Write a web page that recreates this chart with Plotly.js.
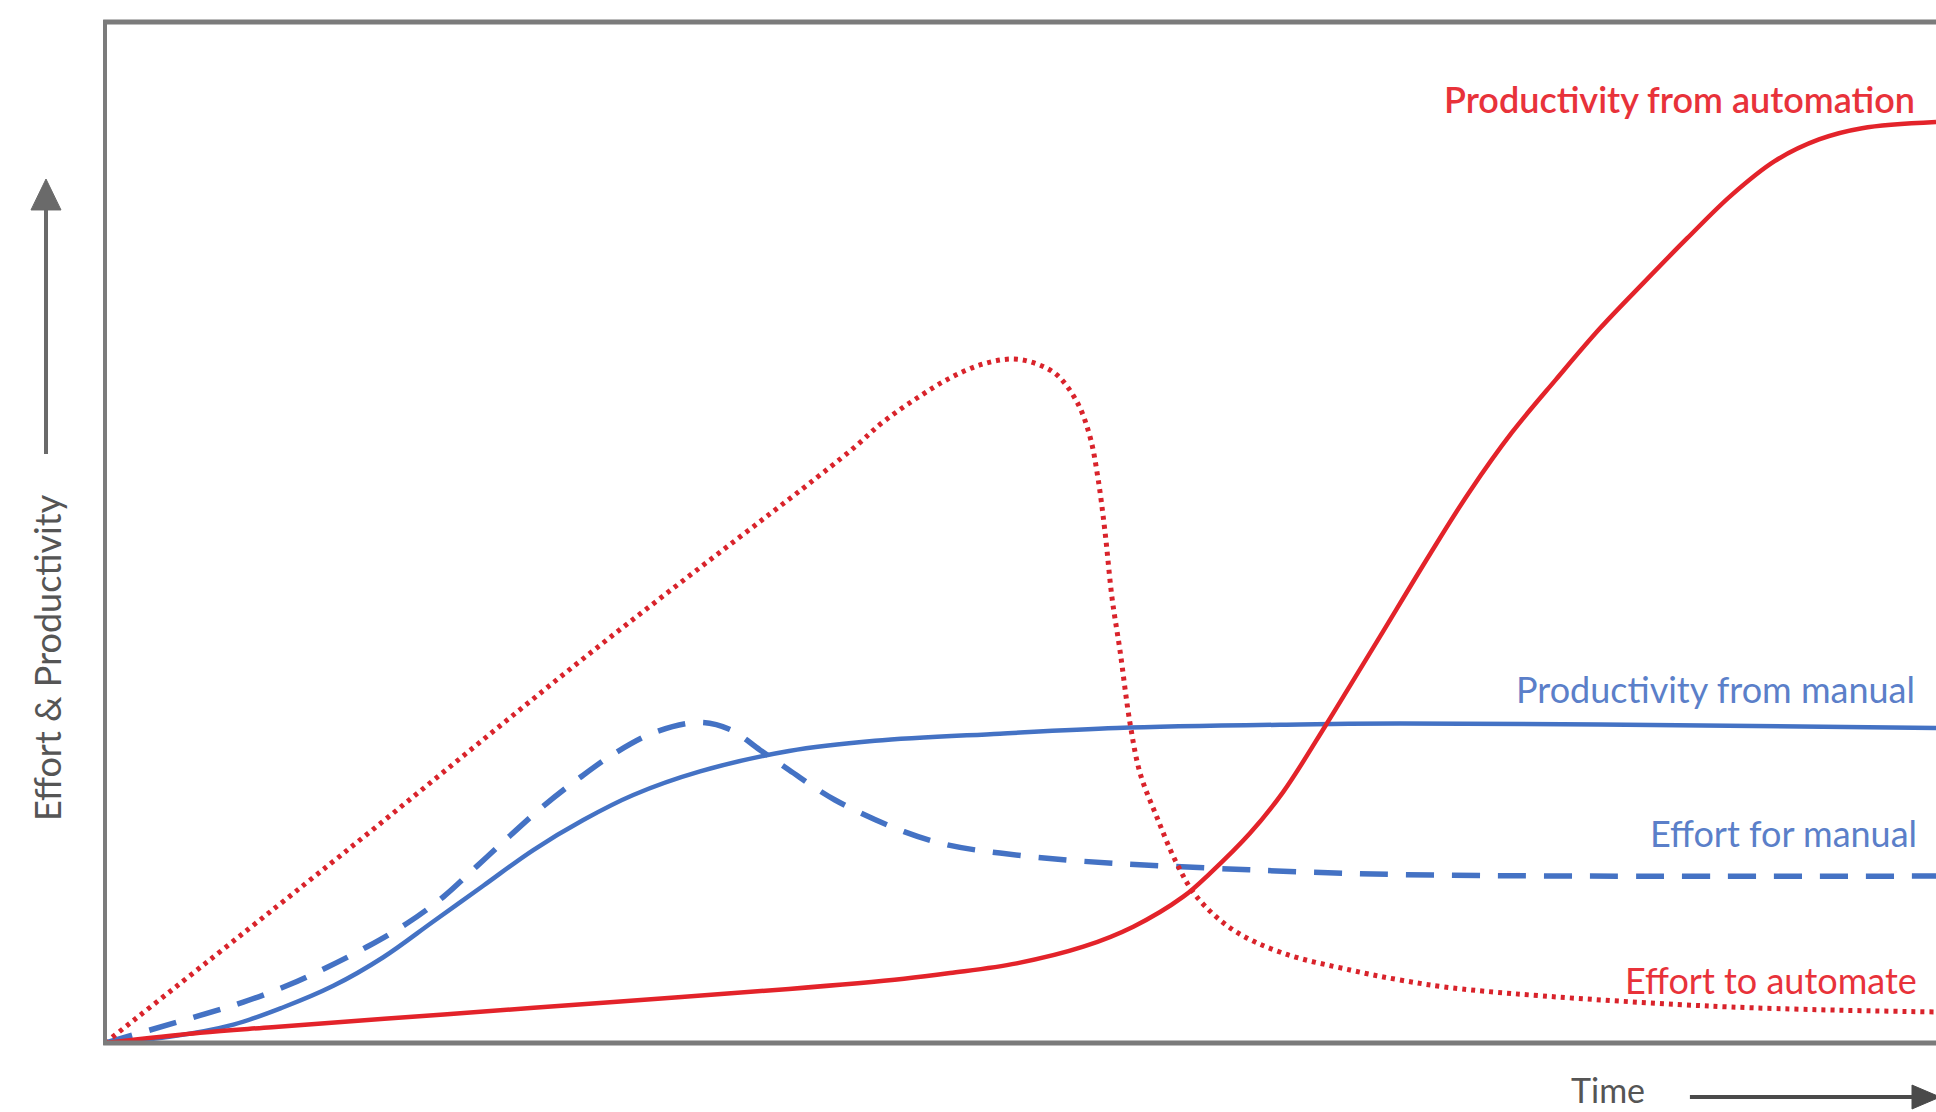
<!DOCTYPE html>
<html>
<head>
<meta charset="utf-8">
<script src="https://cdn.plot.ly/plotly-3.0.1.min.js"></script>
<style>html,body{margin:0;padding:0;background:#fff;}#chart{width:1936px;height:1112px;}</style>
</head>
<body>
<div id="chart"></div>
<script>
// Effort to automate (red dotted)
const effortAutoX = [0, 13.38, 26.71, 40.69, 42.49, 44.35, 46.15, 47.95, 49.59, 50.90, 51.99, 53.09, 53.80, 54.23, 54.61, 55.00, 55.43, 55.98, 56.53, 57.44, 58.53, 59.62, 61.62, 64.35, 68.00, 70.73, 74.11, 87.60, 100];
const effortAutoY = [0, 19.10, 38.49, 57.98, 60.82, 63.17, 65.13, 66.50, 66.99, 66.50, 65.43, 62.78, 59.35, 55.34, 50.15, 43.58, 38.49, 31.34, 26.44, 22.16, 17.60, 14.33, 11.07, 8.79, 7.15, 6.17, 5.29, 3.62, 3.04];

// Productivity from automation (red solid)
const prodAutoX = [0, 5.19, 9.12, 18.51, 27.96, 37.36, 43.64, 46.15, 49.79, 53.43, 56.16, 58.89, 60.35, 62.53, 64.35, 66.63, 68.00, 69.63, 72.37, 74.49, 76.84, 79.25, 81.65, 84.05, 86.40, 88.80, 91.21, 93.61, 95.96, 100];
const prodAutoY = [0, 1.00, 1.55, 2.80, 4.05, 5.30, 6.30, 6.85, 7.80, 9.43, 11.39, 14.33, 16.62, 20.54, 24.60, 31.00, 35.00, 39.80, 47.90, 53.90, 59.80, 65.00, 70.00, 74.50, 78.80, 83.00, 86.40, 88.50, 89.60, 90.20];

// Productivity from manual (blue solid)
const prodManX = [0, 3.50, 7.01, 9.74, 12.47, 15.20, 17.93, 20.66, 23.39, 26.12, 28.85, 32.50, 37.36, 42.05, 48.88, 55.27, 65.26, 70.72, 81.65, 100];
const prodManY = [0, 0.60, 1.80, 3.50, 5.60, 8.40, 11.90, 15.40, 18.90, 21.84, 24.29, 26.60, 28.60, 29.60, 30.30, 30.85, 31.20, 31.30, 31.20, 30.85];

// Effort for manual (blue dashed)
const effortManX = [0, 5.19, 7.55, 9.92, 12.11, 14.29, 16.48, 18.47, 20.30, 22.12, 23.94, 25.94, 27.95, 30.13, 32.50, 34.19, 35.77, 37.36, 39.87, 43.64, 46.15, 48.88, 53.41, 60.73, 70.73, 100];
const effortManY = [0, 2.70, 4.00, 5.60, 7.40, 9.40, 11.70, 14.30, 17.30, 20.30, 23.20, 26.00, 28.50, 30.50, 31.40, 30.66, 28.70, 26.74, 23.80, 20.70, 19.35, 18.60, 17.80, 17.10, 16.50, 16.35];

const seriesLabels = ["Productivity from automation", "Productivity from manual", "Effort for manual", "Effort to automate"];
const axisLabels = {x: "Time", y: "Effort & Productivity"};

const RED = '#e3232a';
const BLUE = '#4472c4';
const GRAY = '#7b7b7b';
const FONT = 'Lato, "Open Sans", sans-serif';

const traces = [
  {x: effortManX, y: effortManY, mode: 'lines', line: {color: BLUE, width: 5.5, dash: '28px,18px', shape: 'spline', smoothing: 1.0}},
  {x: prodManX, y: prodManY, mode: 'lines', line: {color: BLUE, width: 4.5, shape: 'spline', smoothing: 1.0}},
  {x: effortAutoX, y: effortAutoY, mode: 'lines', line: {color: '#d9232b', width: 5, dash: '4px,5px', shape: 'spline', smoothing: 1.0}},
  {x: prodAutoX, y: prodAutoY, mode: 'lines', line: {color: RED, width: 4.5, shape: 'spline', smoothing: 1.0}}
];

const layout = {
  width: 1936, height: 1112,
  margin: {l: 105, r: 0, t: 22, b: 69, pad: 0},
  paper_bgcolor: '#fff', plot_bgcolor: '#fff',
  showlegend: false,
  xaxis: {range: [0, 100], showgrid: false, zeroline: false, showticklabels: false, ticks: '', showline: false, fixedrange: true},
  yaxis: {range: [0, 100], showgrid: false, zeroline: false, showticklabels: false, ticks: '', showline: false, fixedrange: true},
  shapes: [
    {type: 'line', xref: 'paper', yref: 'paper', x0: 0, x1: 0, y0: -0.002, y1: 1.002, line: {color: GRAY, width: 4}},
    {type: 'line', xref: 'paper', yref: 'paper', x0: -0.001, x1: 1.01, y0: 1, y1: 1, line: {color: GRAY, width: 5}},
    {type: 'line', xref: 'paper', yref: 'paper', x0: -0.001, x1: 1.01, y0: 0, y1: 0, line: {color: GRAY, width: 5}},
    // y arrow
    {type: 'line', xref: 'paper', yref: 'paper', x0: -0.03222, x1: -0.03222, y0: 0.5769, y1: 0.8257, line: {color: '#6a6a6a', width: 4}},
    {type: 'path', xref: 'paper', yref: 'paper', path: 'M -0.03222 0.8462 L -0.04042 0.8159 L -0.02403 0.8159 Z', fillcolor: '#6a6a6a', line: {color: '#6a6a6a', width: 1}},
    // x arrow
    {type: 'line', xref: 'paper', yref: 'paper', x0: 0.8656, x1: 0.9880, y0: -0.0529, y1: -0.0529, line: {color: '#4a4a4a', width: 4}},
    {type: 'path', xref: 'paper', yref: 'paper', path: 'M 1.0022 -0.0529 L 0.9869 -0.0412 L 0.9869 -0.0646 Z', fillcolor: '#4a4a4a', line: {color: '#4a4a4a', width: 1}}
  ],
  annotations: [
    {xref: 'paper', yref: 'paper', x: 0.9896, y: 0.9246, xanchor: 'right', yanchor: 'middle', text: seriesLabels[0], showarrow: false, font: {family: FONT, size: 36, color: '#e8323a', weight: 600}},
    {xref: 'paper', yref: 'paper', x: 0.9896, y: 0.3467, xanchor: 'right', yanchor: 'middle', text: seriesLabels[1], showarrow: false, font: {family: FONT, size: 36, color: '#5b7fc9'}},
    {xref: 'paper', yref: 'paper', x: 0.9907, y: 0.2057, xanchor: 'right', yanchor: 'middle', text: seriesLabels[2], showarrow: false, font: {family: FONT, size: 36, color: '#5b7fc9'}},
    {xref: 'paper', yref: 'paper', x: 0.9907, y: 0.0617, xanchor: 'right', yanchor: 'middle', text: seriesLabels[3], showarrow: false, font: {family: FONT, size: 36, color: '#e8323a'}},
    {xref: 'paper', yref: 'paper', x: 0.8209, y: -0.0460, xanchor: 'center', yanchor: 'middle', text: axisLabels.x, showarrow: false, font: {family: FONT, size: 34, color: '#555'}},
    {xref: 'paper', yref: 'paper', x: -0.0317, y: 0.378, xanchor: 'center', yanchor: 'middle', text: axisLabels.y, textangle: -90, showarrow: false, font: {family: FONT, size: 36, color: '#555'}}
  ]
};

Plotly.newPlot('chart', traces, layout, {displayModeBar: false, staticPlot: true});
</script>
</body>
</html>
